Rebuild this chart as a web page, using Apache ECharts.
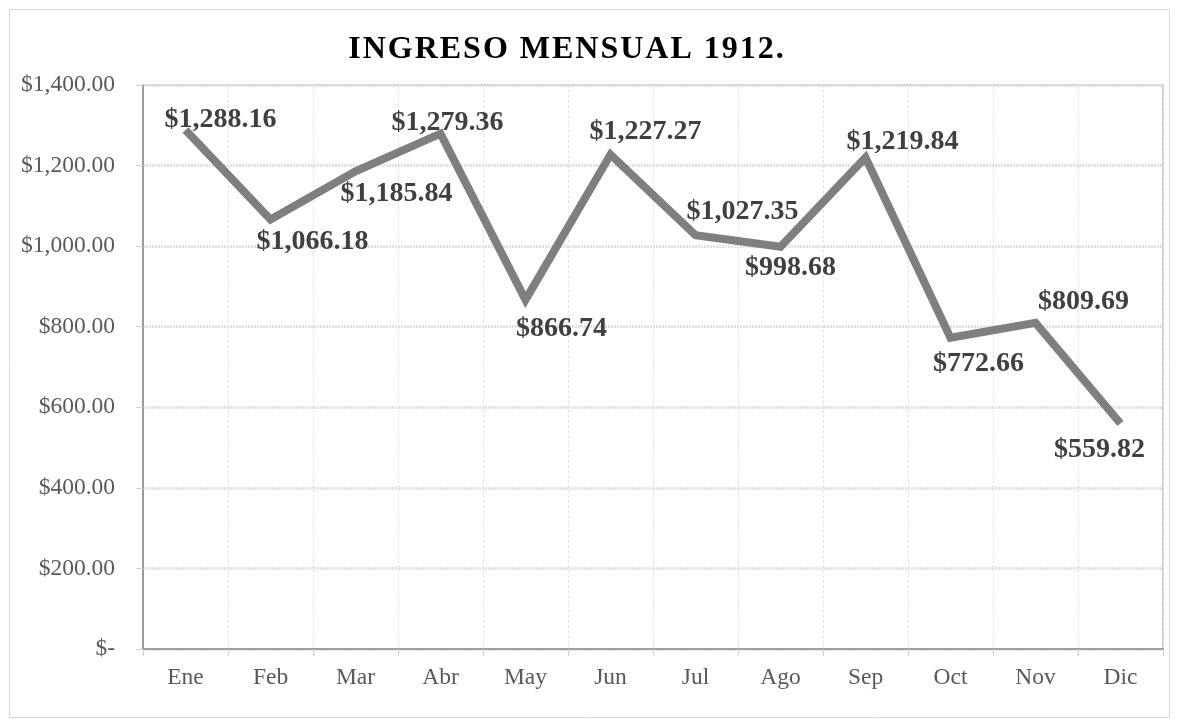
<!DOCTYPE html>
<html>
<head>
<meta charset="utf-8">
<script src="https://cdn.jsdelivr.net/npm/echarts@6/dist/echarts.min.js"></script>
<style>
  html, body { margin: 0; padding: 0; background: #fff; }
  #chart { width: 1177px; height: 726px; }
</style>
</head>
<body>
<div id="chart"></div>
<script>
// meses e ingresos
var meses = ['Ene', 'Feb', 'Mar', 'Abr', 'May', 'Jun', 'Jul', 'Ago', 'Sep', 'Oct', 'Nov', 'Dic']
var ingresos = [1288.16, 1066.18, 1185.84, 1279.36, 866.74, 1227.27, 1027.35, 998.68, 1219.84, 772.66, 809.69, 559.82]
var titulo = 'INGRESO MENSUAL 1912.'

// desplazamiento de cada etiqueta respecto a su punto (solo estilo)
var offsetsEtiqueta = [[35, -10], [42, 22], [41, 22], [7, -11], [36, 29], [35, -23],
  [47, -23], [10, 21], [37, -16], [28, 26], [48, -21], [-21, 26]]

function moneda (v) {
  if (v === 0) return '$-'
  return '$' + v.toLocaleString('en-US', { minimumFractionDigits: 2, maximumFractionDigits: 2 })
}

// espaciado entre letras del título via rich text
function espaciado (txt) {
  return txt.split('').map(function (c) { return '{c|' + c + '}' }).join('')
}

var serif = '"Liberation Serif", "Times New Roman", serif'

var chart = echarts.init(document.getElementById('chart'))
var option = {
  backgroundColor: '#fff',
  animation: false,
  title: {
    text: espaciado(titulo),
    left: 561,
    textAlign: 'center',
    top: 29,
    textStyle: {
      fontFamily: serif,
      fontSize: 32,
      fontWeight: 'bold',
      color: '#000',
      rich: {
        c: {
          fontFamily: serif,
          fontSize: 32,
          fontWeight: 'bold',
          color: '#000',
          padding: [0, 1.0, 0, 1.0]
        }
      }
    }
  },
  graphic: [{
    type: 'rect',
    shape: { x: 9.5, y: 9.5, width: 1160, height: 708 },
    style: { fill: null, stroke: '#d9d9d9', lineWidth: 1 },
    silent: true
  }],
  grid: {
    left: 143,
    right: 14,
    top: 85,
    bottom: 77,
    show: true,
    borderColor: '#9a9a9a',
    borderWidth: 1
  },
  xAxis: {
    type: 'category',
    data: meses,
    boundaryGap: true,
    axisLine: { lineStyle: { color: '#8a8a8a', width: 1.5 } },
    axisTick: { show: true, length: 7, lineStyle: { color: '#d0d0d0' } },
    axisLabel: { fontFamily: serif, fontSize: 23.5, color: '#595959', margin: 17 },
    splitLine: { show: true, lineStyle: { color: '#e4e4e4', type: [3, 2], width: 1 } }
  },
  yAxis: {
    type: 'value',
    min: 0,
    max: 1400,
    interval: 200,
    axisLine: { show: true, lineStyle: { color: '#8a8a8a', width: 1.5 } },
    axisTick: { show: true, length: 7, lineStyle: { color: '#d0d0d0' } },
    axisLabel: {
      fontFamily: serif,
      fontSize: 23.5,
      color: '#595959',
      margin: 28,
      formatter: moneda
    },
    splitLine: { show: true, lineStyle: { color: '#e2e2e2', type: [2, 1], width: 3 } }
  },
  series: [{
    type: 'line',
    data: ingresos.map(function (v, i) {
      return {
        value: v,
        label: { offset: offsetsEtiqueta[i] }
      }
    }),
    symbol: 'circle',
    symbolSize: 1,
    showSymbol: true,
    itemStyle: { color: 'rgba(0,0,0,0)' },
    lineStyle: { color: '#7f7f7f', width: 8, join: 'miter' },
    label: {
      show: true,
      position: 'inside',
      fontFamily: serif,
      fontSize: 28,
      fontWeight: 'bold',
      color: '#404040',
      formatter: function (p) { return moneda(p.value) }
    }
  }]
}
chart.setOption(option)
</script>
</body>
</html>
